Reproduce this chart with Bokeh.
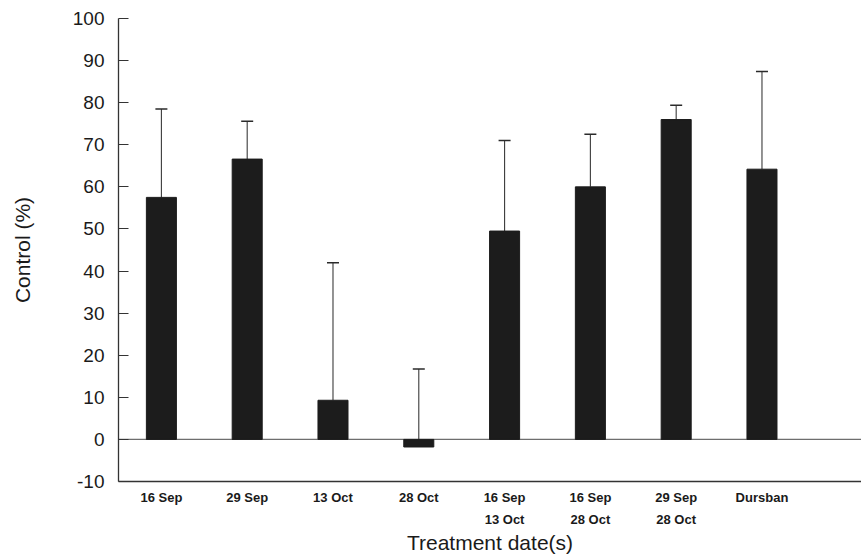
from bokeh.plotting import figure
from bokeh.models import (ColumnDataSource, Range1d, FixedTicker, Span, Whisker, TeeHead)
from bokeh.embed import file_html
from bokeh.resources import INLINE

# ---- data ----
categories = ["16 Sep", "29 Sep", "13 Oct", "28 Oct", "16 Sep\n13 Oct",
              "16 Sep\n28 Oct", "29 Sep\n28 Oct", "Dursban"]
control_pct = [57.5, 66.6, 9.3, -1.8, 49.5, 60.0, 76.0, 64.2]
error_up = [21.0, 9.0, 32.7, 18.5, 21.5, 12.5, 3.4, 23.2]
y_ticks = [-10, 0, 10, 20, 30, 40, 50, 60, 70, 80, 90, 100]

xs = list(range(len(categories)))
upper = [v + e for v, e in zip(control_pct, error_up)]
bar_bottom = [min(v, 0) for v in control_pct]
bar_top = [max(v, 0) for v in control_pct]

src = ColumnDataSource(dict(x=xs, top=bar_top, bottom=bar_bottom,
                            val=control_pct, upper=upper))

FONT = "Liberation Sans"

p = figure(width=861, height=557, output_backend="svg", toolbar_location=None,
           x_range=Range1d(-0.5, 8.16), y_range=Range1d(-10, 100),
           min_border_left=118, min_border_right=0, min_border_top=18,
           min_border_bottom=74)
p.outline_line_color = None
p.xgrid.visible = False
p.ygrid.visible = False
p.background_fill_color = "white"
p.border_fill_color = "white"

# zero line
p.add_layout(Span(location=0, dimension="width", line_color="#6e6e6e",
                  line_width=1.2, level="underlay"))

# error bars (upper only)
p.add_layout(Whisker(source=src, base="x", lower="val", upper="upper",
                     lower_head=None,
                     upper_head=TeeHead(size=12, line_color="#2a2a2a", line_width=1.5),
                     line_color="#3a3a3a", line_width=1.1, level="underlay"))

p.vbar(x="x", top="top", bottom="bottom", width=0.35, source=src,
       fill_color="#1c1c1c", line_color="#1c1c1c")

# y axis
ya = p.yaxis[0]
ya.ticker = FixedTicker(ticks=y_ticks)
ya.major_label_overrides = {t: str(t) for t in y_ticks}
ya.major_tick_in = 10
ya.major_tick_out = 0
ya.minor_tick_line_color = None
ya.major_tick_line_color = "#333333"
ya.axis_line_color = "#333333"
ya.axis_line_width = 1.3
ya.major_label_text_font = FONT
ya.major_label_text_font_size = "19px"
ya.major_label_text_color = "#1a1a1a"
ya.major_label_standoff = 14
ya.axis_label = "Control (%)"
ya.axis_label_text_font = FONT
ya.axis_label_text_font_size = "21px"
ya.axis_label_text_font_style = "normal"
ya.axis_label_text_color = "#1a1a1a"
ya.axis_label_standoff = 36

# x axis
xa = p.xaxis[0]
xa.ticker = FixedTicker(ticks=xs)
xa.major_label_overrides = {i: c for i, c in zip(xs, categories)}
xa.major_tick_line_color = None
xa.minor_tick_line_color = None
xa.axis_line_color = "#333333"
xa.axis_line_width = 1.3
xa.major_label_text_font = FONT
xa.major_label_text_font_size = "13px"
xa.major_label_text_font_style = "bold"
xa.major_label_text_color = "#1a1a1a"
xa.major_label_text_line_height = 1.5
xa.major_label_standoff = 2
xa.axis_label = "Treatment date(s)"
xa.axis_label_text_font = FONT
xa.axis_label_text_font_size = "21px"
xa.axis_label_text_font_style = "normal"
xa.axis_label_text_color = "#1a1a1a"
xa.axis_label_standoff = 1

open("out.html", "w").write(file_html(p, INLINE))
